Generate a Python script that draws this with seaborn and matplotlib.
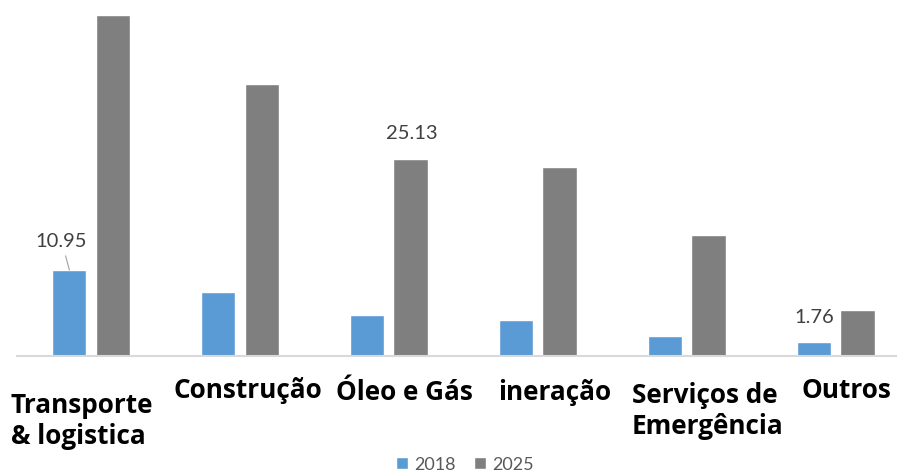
import matplotlib
matplotlib.use("Agg")
import matplotlib.pyplot as plt
import seaborn as sns
import pandas as pd

# dados
categorias = ["Transporte & logistica", "Construção", "Óleo e Gás", "Mineração",
              "Serviços de Emergência", "Outros"]
rotulos = ["Transporte\n& logistica", "Construção", "Óleo e Gás", "ineração",
           "Serviços de\nEmergência", "Outros"]
valores_2018 = [10.95, 8.2, 5.25, 4.5, 2.5, 1.76]
valores_2025 = [43.7, 34.8, 25.13, 24.15, 15.5, 5.8]
anos = ["2018", "2025"]

df = pd.DataFrame({
    "categoria": categorias * 2,
    "ano": [anos[0]] * len(categorias) + [anos[1]] * len(categorias),
    "valor": valores_2018 + valores_2025,
})

sns.set_theme(style="white")
plt.rcParams["font.family"] = ["Lato", "DejaVu Sans"]

fig = plt.figure(figsize=(8.97, 4.77), dpi=100)
ax = fig.add_axes([16.5 / 897, 120.5 / 477, 880.5 / 897, 356.5 / 477])

sns.barplot(data=df, x="categoria", y="valor", hue="ano", order=categorias,
            palette=["#5B9BD5", "#7F7F7F"], width=0.58, gap=0.21,
            saturation=1, ax=ax, legend=True)

ax.set_xlim(-0.5, 5.41)
ax.set_ylim(0, 45.7)
ax.set_xlabel("")
ax.set_ylabel("")
ax.set_xticks([])
ax.set_yticks([])
for s in ["top", "right", "left"]:
    ax.spines[s].set_visible(False)
ax.spines["bottom"].set_color("#D9D9D9")
ax.spines["bottom"].set_linewidth(1.5)

# rótulos das categorias (em negrito, desalinhados como no original)
desloc_x = [-80, -66, -53, -40, -55, -34]
desloc_y = [-56.5, -41.5, -43.5, -43.5, -46.5, -41.5]
for i, txt in enumerate(rotulos):
    for j, linha in enumerate(txt.split("\n")):
        ax.annotate(linha, xy=(i, 0), xycoords=("data", "axes fraction"),
                    xytext=(desloc_x[i], desloc_y[i] - 31 * j),
                    textcoords="offset pixels", ha="left", va="baseline",
                    fontsize=18.8, fontweight="bold", color="#000000",
                    family=["Open Sans", "DejaVu Sans"],
                    annotation_clip=False)

# rótulos de dados
cont_2018 = ax.containers[0]
cont_2025 = ax.containers[1]
bar = cont_2018[0]
cx = bar.get_x() + bar.get_width() / 2
ax.annotate(f"{valores_2018[0]:.2f}", xy=(cx, valores_2018[0]),
            xytext=(-8, 30), textcoords="offset pixels", ha="center",
            va="center", fontsize=14.5, color="#404040",
            arrowprops=dict(arrowstyle="-", color="#A0A0A0", lw=0.8,
                            shrinkA=3, shrinkB=0))
bar = cont_2025[2]
ax.annotate(f"{valores_2025[2]:.2f}", xy=(bar.get_x() + bar.get_width() / 2, valores_2025[2]),
            xytext=(1, 27), textcoords="offset pixels", ha="center",
            va="center", fontsize=14.5, color="#404040")
bar = cont_2018[5]
ax.annotate(f"{valores_2018[5]:.2f}", xy=(bar.get_x() + bar.get_width() / 2, valores_2018[5]),
            xytext=(0, 25), textcoords="offset pixels", ha="center",
            va="center", fontsize=14.5, color="#404040")

# legenda
handles, labels = ax.get_legend_handles_labels()
ax.get_legend().remove()
fig.legend(handles, labels, loc="center", bbox_to_anchor=(465 / 897, 1 - 465 / 477),
           ncol=2, frameon=False, fontsize=13, handlelength=0.65,
           handleheight=0.65, handletextpad=0.35, columnspacing=1.0,
           labelcolor="#595959")

fig.savefig("out.png", dpi=100)
